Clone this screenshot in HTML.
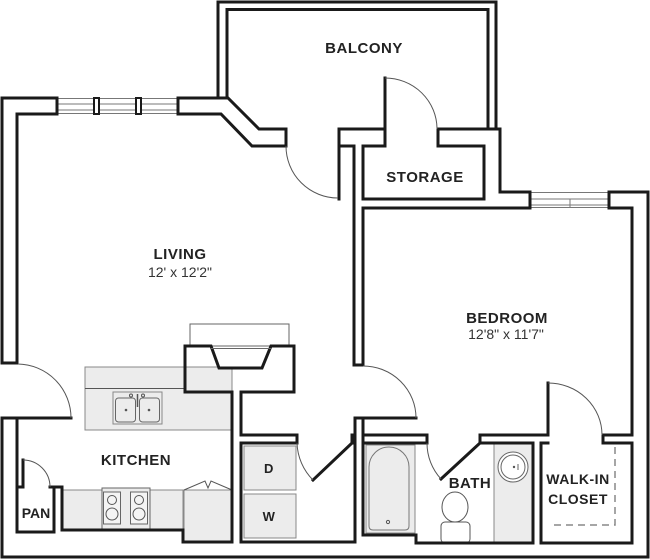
<!DOCTYPE html>
<html><head><meta charset="utf-8"><style>
html,body{margin:0;padding:0;background:#fff;}
svg{display:block;}
.w{fill:none;stroke:#1a1a1a;stroke-width:3;stroke-linejoin:miter;stroke-linecap:square;}
.t{fill:none;stroke:#777;stroke-width:1;}
.a{fill:none;stroke:#555;stroke-width:1;}
.g{fill:#ececec;stroke:#888;stroke-width:1;}
.lb{font-family:"Liberation Sans",sans-serif;font-weight:bold;font-size:15px;fill:#222;text-anchor:middle;letter-spacing:0.5px;}
.dm{font-family:"Liberation Sans",sans-serif;font-size:14px;fill:#333;text-anchor:middle;}
</style></head><body>
<svg width="650" height="560" viewBox="0 0 650 560" xmlns="http://www.w3.org/2000/svg">
<rect width="650" height="560" fill="#fff"/>

<!-- fixtures (below walls) -->
<!-- kitchen island -->
<rect class="g" x="85" y="367" width="147" height="63"/>
<line class="a" x1="85" y1="388.5" x2="185" y2="388.5"/>
<rect class="g" x="113" y="392" width="49" height="32" stroke="#666"/>
<rect x="115.5" y="398" width="20" height="24" rx="3" fill="#ececec" stroke="#666" stroke-width="1"/>
<rect x="139.5" y="398" width="20" height="24" rx="3" fill="#ececec" stroke="#666" stroke-width="1"/>
<circle cx="131" cy="395.5" r="1.5" fill="none" stroke="#555"/>
<circle cx="143" cy="395.5" r="1.5" fill="none" stroke="#555"/>
<line x1="137.5" y1="394" x2="137.5" y2="407" stroke="#555" stroke-width="1.5"/>
<circle cx="126" cy="410" r="1.3" fill="#555"/>
<circle cx="149" cy="410" r="1.3" fill="#555"/>
<!-- bottom counter -->
<rect class="g" x="62" y="490" width="121" height="40"/>
<rect x="102" y="488" width="48" height="42" fill="#ececec" stroke="#666" stroke-width="1"/>
<rect x="103.5" y="492" width="17" height="32" fill="#f4f4f4" stroke="#666" stroke-width="1"/>
<rect x="130.5" y="492" width="17" height="32" fill="#f4f4f4" stroke="#666" stroke-width="1"/>
<circle cx="112" cy="500" r="4.5" fill="none" stroke="#555"/>
<circle cx="139" cy="500" r="4.5" fill="none" stroke="#555"/>
<circle cx="112" cy="514" r="6" fill="none" stroke="#555"/>
<circle cx="139" cy="514" r="6" fill="none" stroke="#555"/>
<!-- fridge -->
<rect class="g" x="184" y="490" width="48" height="52"/>
<polyline class="a" points="184,490 205,481 208,488 211,481 232,490"/>
<!-- D / W -->
<rect class="g" x="244" y="446" width="52" height="44"/>
<rect class="g" x="244" y="494" width="52" height="44"/>
<!-- tub -->
<rect class="g" x="366" y="445" width="49" height="88"/>
<path d="M369,526 L369,467 A20,20 0 0 1 409,467 L409,526 Q409,530 405,530 L373,530 Q369,530 369,526 Z" fill="#ececec" stroke="#777" stroke-width="1"/>
<circle cx="388" cy="522" r="1.6" fill="none" stroke="#555"/>
<!-- toilet -->
<rect x="441" y="522" width="29" height="21" rx="4" fill="#fff" stroke="#555" stroke-width="1"/>
<ellipse cx="455" cy="507" rx="13" ry="15" fill="#fff" stroke="#555" stroke-width="1"/>
<!-- vanity -->
<rect class="g" x="494" y="443" width="39" height="100"/>
<circle cx="513" cy="467" r="15" fill="#fff" stroke="#666" stroke-width="1"/>
<circle cx="513" cy="467" r="12" fill="#fff" stroke="#666" stroke-width="1"/>
<circle cx="514" cy="467" r="1.2" fill="#555"/>
<line x1="518" y1="464" x2="518" y2="470" stroke="#666" stroke-width="1"/>
<!-- closet dashed -->
<path d="M615,447 V525 H551" fill="none" stroke="#888" stroke-width="1.5" stroke-dasharray="7,5"/>

<!-- fireplace hearth -->
<rect x="190" y="324" width="99" height="22" fill="#fff" stroke="#666" stroke-width="1"/>

<!-- windows -->
<g class="t">
<line x1="57" y1="98.5" x2="178" y2="98.5"/>
<line x1="57" y1="104" x2="178" y2="104"/>
<line x1="57" y1="110" x2="178" y2="110"/>
<line x1="57" y1="113.5" x2="178" y2="113.5"/>
<line x1="530" y1="192.5" x2="609" y2="192.5"/>
<line x1="530" y1="199" x2="609" y2="199"/>
<line x1="530" y1="205" x2="609" y2="205"/>
<line x1="530" y1="207.5" x2="609" y2="207.5"/>
<line x1="570" y1="199" x2="570" y2="208"/>
</g>
<rect x="94" y="98" width="5" height="16" fill="#fff" stroke="#1a1a1a" stroke-width="2"/>
<rect x="136" y="98" width="5" height="16" fill="#fff" stroke="#1a1a1a" stroke-width="2"/>

<!-- walls -->
<g class="w">
<path d="M57,98 L2,98 L2,363 L17,363 L17,114 L57,114 Z"/>
<path d="M178,98 L228,98 L259,129 L286,129 L286,146 L252,146 L221,114 L178,114 Z"/>
<path d="M218,98 L218,2 L496,2 L496,129"/>
<path d="M227,98 L227,9.5 L488,9.5 L488,129"/>
<path d="M385,129 L339,129 L339,199"/>
<path d="M339,146 L354,146 L354,365 L363,365 L363,208 L530,208"/>
<path d="M385,78 L385,146 L363,146 L363,199 L484,199 L484,146 L438,146 L438,129 L500,129 L500,192 L530,192 L530,208"/>
<path d="M609,208 L609,192 L648,192 L648,557 L2,557 L2,418 L17,418 L17,532 L54,532 L54,487 L62,487 L62,530 L183,530 L183,542 L232,542 L232,392 L185,392 L185,346 L211,346 L219,368 L262,368 L271,346 L294,346 L294,392 L241,392 L241,435 L297,435 L297,443 L241,443 L241,542 L355,542 L355,418 L363,418 L363,535 L416,535 L416,543 L533,543 L533,443 L480,443 L480,435 L548,435 L548,383"/>
<path d="M548,443 L541,443 L541,543 L632,543 L632,443 L603,443 L603,435 L632,435 L632,208 L609,208"/>
<path d="M363,435 L427,435 L427,443 L363,443"/>
<path d="M355,435 L352,435 L352,443 L355,443"/>
<path d="M17,487 L23,487 L23,460"/>
<path d="M50,487 L54,487"/>
<!-- door leaves -->
<line x1="17" y1="418" x2="71" y2="418"/>
<line x1="363" y1="418" x2="416" y2="418"/>
<line x1="352" y1="443" x2="313" y2="480"/>
<line x1="480" y1="443" x2="441" y2="479"/>
</g>
<line x1="211" y1="348.5" x2="271" y2="348.5" stroke="#666" stroke-width="1"/>

<!-- door arcs -->
<g class="a">
<path d="M286,146 A52,52 0 0 0 338,198"/>
<path d="M385,78 A52,51 0 0 1 437,129"/>
<path d="M18,364 A54,54 0 0 1 71,418"/>
<path d="M363,366 A53,52 0 0 1 416,418"/>
<path d="M548,383 A54,52 0 0 1 602,435"/>
<path d="M297,443 A55,55 0 0 0 313,480"/>
<path d="M427,443 A53,53 0 0 0 441,479"/>
<path d="M23,460 A27,27 0 0 1 50,487"/>
</g>

<!-- labels -->
<text class="lb" x="364" y="53">BALCONY</text>
<text class="lb" x="425" y="182">STORAGE</text>
<text class="lb" x="180" y="259">LIVING</text>
<text class="dm" x="180" y="277">12' x 12'2"</text>
<text class="lb" x="507" y="323">BEDROOM</text>
<text class="dm" x="506" y="339">12'8" x 11'7"</text>
<text class="lb" x="136" y="465">KITCHEN</text>
<text class="lb" x="36" y="518" style="font-size:14px;letter-spacing:0">PAN</text>
<text class="lb" x="269" y="473" style="font-size:13px">D</text>
<text class="lb" x="269" y="521" style="font-size:13px">W</text>
<text class="lb" x="470" y="488">BATH</text>
<text class="lb" x="578" y="484" style="font-size:14px">WALK-IN</text>
<text class="lb" x="578" y="504" style="font-size:14px">CLOSET</text>
</svg>
</body></html>
